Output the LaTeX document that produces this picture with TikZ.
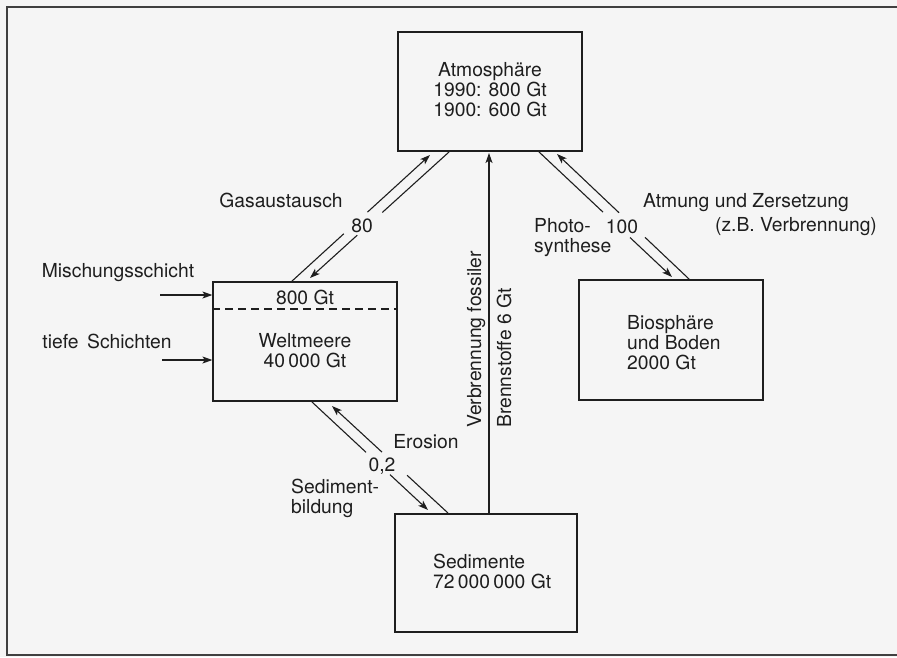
\documentclass[tikz,border=0pt]{standalone}
\usepackage{fontspec}
\setmainfont{TeX Gyre Heros}
\usetikzlibrary{arrows.meta,calc}
\definecolor{bg}{RGB}{245,245,245}
\definecolor{ink}{RGB}{30,30,30}
\tikzset{
  box/.style={draw=ink,line width=1.2pt,rectangle,inner sep=0pt},
  lbl/.style={font=\fontsize{19.3}{20}\selectfont,text=ink,inner sep=0pt},
  flow/.style={draw=ink,line width=1.1pt},
  flowarr/.style={draw=ink,line width=1.1pt,-{Stealth[length=10pt,width=7pt,inset=2.5pt]}}
}
\begin{document}
\begin{tikzpicture}[x=1pt,y=-1pt]
\useasboundingbox[fill=bg] (0,0) rectangle (897,657);
\draw[line width=2pt,draw=black!75] (7,6.5) rectangle (905,655);

% boxes
\node[box,minimum width=184pt,minimum height=119pt] (atm) at (490,91.5) {};
\node[box,minimum width=184pt,minimum height=119pt] (welt) at (305,341.5) {};
\node[box,minimum width=184pt,minimum height=120pt] (bio) at (671,340) {};
\node[box,minimum width=182pt,minimum height=118pt] (sed) at (486,573) {};
\draw[ink,line width=1.2pt,dash pattern=on 8pt off 5pt] (welt.west |- 0,309) -- (welt.east |- 0,309);

% box texts
\node[lbl,align=center] (atmtxt) at (490,90) {Atmosphäre\\1990: 800 Gt\\1900: 600 Gt};
\node[lbl] (oben) at (305,297) {800 Gt};
\node[lbl,align=center] (welttxt) at (305,351) {Weltmeere\\40\,000 Gt};
\node[lbl,align=left,anchor=west] (biotxt) at (627,343) {Biosphäre\\und Boden\\2000 Gt};
\node[lbl,align=left,anchor=west] (sedtxt) at (433,571) {Sedimente\\72\,000\,000 Gt};

% Gasaustausch
\coordinate (g1a) at (291,282); \coordinate (g1b) at (430,155);
\coordinate (g2a) at (449,152); \coordinate (g2b) at (310,278);
\draw[flow] (g1a) -- ($(g1a)!0.38!(g1b)$);
\draw[flowarr] ($(g1a)!0.55!(g1b)$) -- (g1b);
\draw[flow] (g2a) -- ($(g2a)!0.48!(g2b)$);
\draw[flowarr] ($(g2a)!0.66!(g2b)$) -- (g2b);

% Photosynthese / Atmung
\coordinate (p1a) at (538,151); \coordinate (p1b) at (672,277);
\coordinate (p2a) at (689,279); \coordinate (p2b) at (557,154);
\draw[flow] (p1a) -- ($(p1a)!0.485!(p1b)$);
\draw[flowarr] ($(p1a)!0.687!(p1b)$) -- (p1b);
\draw[flow] (p2a) -- ($(p2a)!0.333!(p2b)$);
\draw[flowarr] ($(p2a)!0.53!(p2b)$) -- (p2b);

% Erosion / Sedimentbildung
\coordinate (e1a) at (312,402); \coordinate (e1b) at (428,510);
\coordinate (e2a) at (448,513); \coordinate (e2b) at (332,406);
\draw[flow] (e1a) -- ($(e1a)!0.466!(e1b)$);
\draw[flowarr] ($(e1a)!0.672!(e1b)$) -- (e1b);
\draw[flow] (e2a) -- ($(e2a)!0.353!(e2b)$);
\draw[flowarr] ($(e2a)!0.569!(e2b)$) -- (e2b);

% fossil fuels
\coordinate (fa) at (489,514); \coordinate (fb) at (489,153);
\draw[flowarr] (fa) -- (fb);
\node[lbl,rotate=90,anchor=base west] (verb) at (481,428) {Verbrennung fossiler};
\node[lbl,rotate=90,anchor=base west] (brenn) at (511,428) {Brennstoffe 6 Gt};

% side arrows
\coordinate (m0) at (160,295); \coordinate (t0) at (162,360);
\draw[flowarr] (m0) -- (m0 -| welt.west);
\draw[flowarr] (t0) -- (t0 -| welt.west);

% labels
\node[lbl] (gas) at (281,200) {Gasaustausch};
\node[lbl] (n80) at (362,226) {80};
\node[lbl] (misch) at (118,273) {Mischungsschicht};
\node[lbl] (tiefe) at (107,341) {tiefe\, Schichten};
\node[lbl,align=left,anchor=west] (photo) at (534,238) {Photo-\\synthese};
\node[lbl] (n100) at (622,227) {100};
\node[lbl] (atmung) at (746,203) {Atmung und Zersetzung};
\node[lbl] (zb) at (796,227) {(z.B. Verbrennung)};
\node[lbl] (eros) at (426,442) {Erosion};
\node[lbl] (n02) at (382,466) {0,2};
\node[lbl,align=left,anchor=west] (sedb) at (291,498) {Sediment-\\bildung};
\end{tikzpicture}
\end{document}
